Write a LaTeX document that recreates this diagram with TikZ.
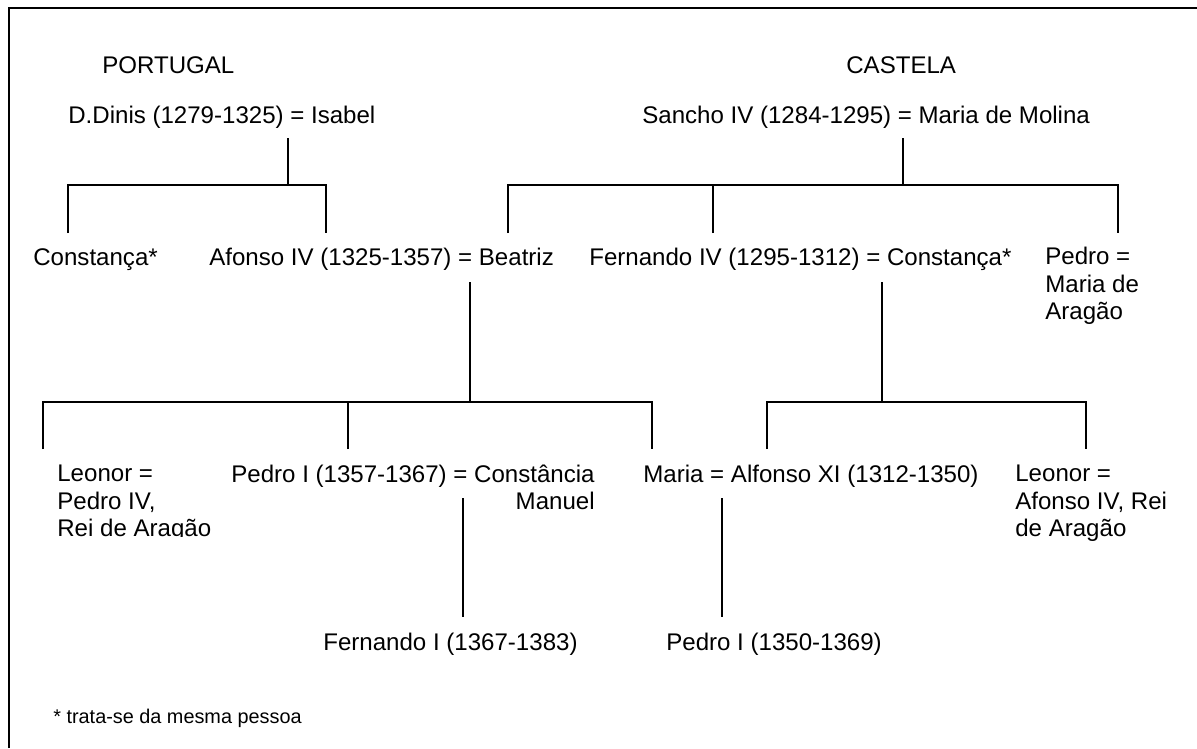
\documentclass[tikz,border=0pt]{standalone}
\usepackage{fontspec}
\setmainfont{Liberation Sans}

\tikzset{
  pessoa/.style={font=\fontsize{13.7}{15.6}\selectfont, inner sep=0pt, anchor=base west, align=left},
  nota/.style={font=\fontsize{11.3}{13}\selectfont, inner sep=0pt, anchor=base west},
  ramo/.style={line width=1.1pt}
}

\begin{document}
\begin{tikzpicture}[x=0.02cm, y=-0.02cm]
\useasboundingbox (0,0) rectangle (1197,748);

% Moldura
\draw[ramo] (9,748) -- (9,8) -- (1197,8);

% Reinos
\node[pessoa] (portugal) at (102,73) {PORTUGAL};
\node[pessoa] (castela) at (846,73) {CASTELA};

% Primeira geracao
\node[pessoa] (dinis) at (68,123) {D.Dinis (1279-1325) = Isabel};
\node[pessoa] (sancho) at (642,123) {Sancho IV (1284-1295) = Maria de Molina};

% Segunda geracao (base = ultima linha)
\node[pessoa] (constanca) at (33,265) {Constança*};
\node[pessoa] (afonso) at (209,265) {Afonso IV (1325-1357) = Beatriz};
\node[pessoa] (fernandoiv) at (589,265) {Fernando IV (1295-1312) = Constança*};
\node[pessoa] (pedro) at (1045,319.8) {Pedro =\\Maria de\\Aragão};

% Terceira geracao
\begin{scope}
  \clip (40,440) rectangle (240,536.5);
  \node[pessoa] (leonorpt) at (57,536.8) {Leonor =\\Pedro IV,\\Rei de Aragão};
\end{scope}
\node[pessoa, anchor=base east, align=right] (pedroipt) at (595,509.4) {Pedro I (1357-1367) = Constância\\Manuel};
\node[pessoa] (maria) at (643,482) {Maria = Alfonso XI (1312-1350)};
\node[pessoa] (leonorcs) at (1015,536.8) {Leonor =\\Afonso IV, Rei\\de Aragão};

% Quarta geracao
\node[pessoa] (fernandoi) at (323,650) {Fernando I (1367-1383)};
\node[pessoa] (pedroics) at (666,650) {Pedro I (1350-1369)};

% Nota
\node[nota] (nota) at (53,723) {* trata-se da mesma pessoa};

% Pontos dos ramos
\coordinate (dinis-a) at (288,138);
\coordinate (dinis-b) at (288,185);
\coordinate (constanca-t) at (68,233);
\coordinate (afonso-t) at (326,233);

\coordinate (sancho-a) at (903,138);
\coordinate (sancho-b) at (903,185);
\coordinate (beatriz-t) at (508,233);
\coordinate (fernandoiv-t) at (713,233);
\coordinate (pedro-t) at (1118,233);

\coordinate (afonso-a) at (470,282);
\coordinate (afonso-b) at (470,402);
\coordinate (leonorpt-t) at (43,449);
\coordinate (pedroipt-t) at (348,449);
\coordinate (maria-t) at (652,449);

\coordinate (fernandoiv-a) at (882,282);
\coordinate (fernandoiv-b) at (882,402);
\coordinate (alfonso-t) at (767,449);
\coordinate (leonorcs-t) at (1086,449);

\coordinate (pedroipt-a) at (463,498);
\coordinate (fernandoi-t) at (463,617);
\coordinate (maria-a) at (722,498);
\coordinate (pedroics-t) at (722,617);

% Ramos
\draw[ramo] (dinis-a) -- (dinis-b);
\draw[ramo] (constanca-t) |- (dinis-b) -| (afonso-t);

\draw[ramo] (sancho-a) -- (sancho-b);
\draw[ramo] (beatriz-t) |- (sancho-b) -| (pedro-t);
\draw[ramo] (fernandoiv-t) -- (fernandoiv-t |- sancho-b);

\draw[ramo] (afonso-a) -- (afonso-b);
\draw[ramo] (leonorpt-t) |- (afonso-b) -| (maria-t);
\draw[ramo] (pedroipt-t) -- (pedroipt-t |- afonso-b);

\draw[ramo] (fernandoiv-a) -- (fernandoiv-b);
\draw[ramo] (alfonso-t) |- (fernandoiv-b) -| (leonorcs-t);

\draw[ramo] (pedroipt-a) -- (fernandoi-t);
\draw[ramo] (maria-a) -- (pedroics-t);
\end{tikzpicture}
\end{document}
